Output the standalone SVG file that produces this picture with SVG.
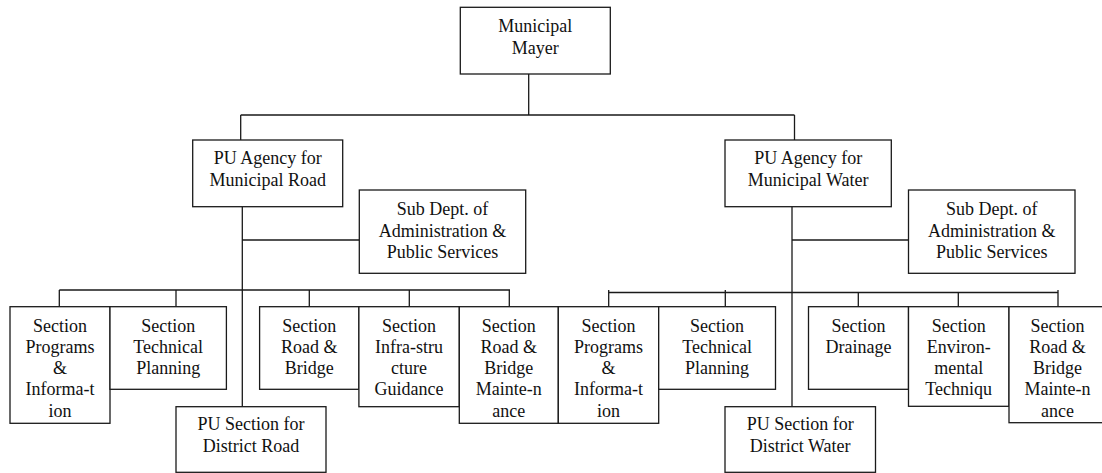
<svg xmlns="http://www.w3.org/2000/svg" width="1102" height="473" viewBox="0 0 1102 473">
  <style>
    .box { fill: #ffffff; stroke: #1a1a1a; stroke-width: 1.3; }
    .lbl { font-family: "Liberation Serif", "Times New Roman", serif; font-size: 18px; fill: #111111; text-anchor: middle; }
    .wire { fill: none; stroke: #1a1a1a; stroke-width: 1.3; }
  </style>
  <rect width="1102" height="473" fill="#ffffff"/>

  <!-- connectors -->
  <g id="connectors" class="wire">
    <!-- mayor to agencies -->
    <path d="M528.7 74 V115 M240.7 115 H794.5 M240.7 115 V140 M794.5 115 V140"/>
    <!-- road agency trunk -->
    <path d="M242.3 206.7 V406.7 M242.3 240 H359.3"/>
    <path d="M59.3 290 H510 M59.3 290 V306.7 M176 290 V306.7 M309.3 290 V306.7 M409.3 290 V306.7 M509.3 290 V306.7"/>
    <!-- water agency trunk -->
    <path d="M792 206.7 V406.7 M792 240 H908.5"/>
    <path d="M608.7 292.5 H1058.5 M608.7 290 V306.7 M725.3 290 V306.7 M858.3 292.5 V306.7 M958.3 292.5 V306.7 M1058 290 V306.7"/>
  </g>

  <!-- top level -->
  <g id="mayor">
    <rect class="box" x="460.3" y="7.3" width="150" height="66.7"/>
    <text class="lbl" x="535.3" y="32.3">Municipal</text>
    <text class="lbl" x="535.3" y="54">Mayer</text>
  </g>

  <!-- road branch -->
  <g id="agency-road">
    <rect class="box" x="192.7" y="140" width="150" height="66.7"/>
    <text class="lbl" x="267.7" y="164">PU Agency for</text>
    <text class="lbl" x="267.7" y="185.5">Municipal Road</text>
  </g>
  <g id="subdept-road">
    <rect class="box" x="359.3" y="190" width="166.4" height="83.3"/>
    <text class="lbl" x="442.5" y="215">Sub Dept. of</text>
    <text class="lbl" x="442.5" y="236.5">Administration &amp;</text>
    <text class="lbl" x="442.5" y="258">Public Services</text>
  </g>
  <g id="road-programs">
    <rect class="box" x="10" y="306.7" width="100" height="116.6"/>
    <text class="lbl" x="60" y="331.5">Section</text>
    <text class="lbl" x="60" y="352.8">Programs</text>
    <text class="lbl" x="60" y="374.1">&amp;</text>
    <text class="lbl" x="60" y="395.4">Informa-t</text>
    <text class="lbl" x="60" y="416.7">ion</text>
  </g>
  <g id="road-technical">
    <rect class="box" x="110" y="306.7" width="116.4" height="82.6"/>
    <text class="lbl" x="168.2" y="331.5">Section</text>
    <text class="lbl" x="168.2" y="352.8">Technical</text>
    <text class="lbl" x="168.2" y="374.1">Planning</text>
  </g>
  <g id="road-bridge">
    <rect class="box" x="259.6" y="306.7" width="99.3" height="82.6"/>
    <text class="lbl" x="309.3" y="331.5">Section</text>
    <text class="lbl" x="309.3" y="352.8">Road &amp;</text>
    <text class="lbl" x="309.3" y="374.1">Bridge</text>
  </g>
  <g id="road-infrastructure">
    <rect class="box" x="358.9" y="306.7" width="100.4" height="100"/>
    <text class="lbl" x="409.1" y="331.5">Section</text>
    <text class="lbl" x="409.1" y="352.8">Infra-stru</text>
    <text class="lbl" x="409.1" y="374.1">cture</text>
    <text class="lbl" x="409.1" y="395.4">Guidance</text>
  </g>
  <g id="road-maintenance">
    <rect class="box" x="459.3" y="306.7" width="99" height="116.6"/>
    <text class="lbl" x="508.8" y="331.5">Section</text>
    <text class="lbl" x="508.8" y="352.8">Road &amp;</text>
    <text class="lbl" x="508.8" y="374.1">Bridge</text>
    <text class="lbl" x="508.8" y="395.4">Mainte-n</text>
    <text class="lbl" x="508.8" y="416.7">ance</text>
  </g>
  <g id="district-road">
    <rect class="box" x="176" y="406.7" width="150" height="65.6"/>
    <text class="lbl" x="251" y="430">PU Section for</text>
    <text class="lbl" x="251" y="451.7">District Road</text>
  </g>

  <!-- water branch -->
  <g id="agency-water">
    <rect class="box" x="725" y="140" width="166.3" height="66.7"/>
    <text class="lbl" x="808.2" y="164">PU Agency for</text>
    <text class="lbl" x="808.2" y="185.5">Municipal Water</text>
  </g>
  <g id="subdept-water">
    <rect class="box" x="908.5" y="190" width="166.5" height="83.3"/>
    <text class="lbl" x="991.8" y="215">Sub Dept. of</text>
    <text class="lbl" x="991.8" y="236.5">Administration &amp;</text>
    <text class="lbl" x="991.8" y="258">Public Services</text>
  </g>
  <g id="water-programs">
    <rect class="box" x="558.3" y="306.7" width="100.4" height="116.6"/>
    <text class="lbl" x="608.5" y="331.5">Section</text>
    <text class="lbl" x="608.5" y="352.8">Programs</text>
    <text class="lbl" x="608.5" y="374.1">&amp;</text>
    <text class="lbl" x="608.5" y="395.4">Informa-t</text>
    <text class="lbl" x="608.5" y="416.7">ion</text>
  </g>
  <g id="water-technical">
    <rect class="box" x="658.7" y="306.7" width="116.8" height="82.6"/>
    <text class="lbl" x="717.1" y="331.5">Section</text>
    <text class="lbl" x="717.1" y="352.8">Technical</text>
    <text class="lbl" x="717.1" y="374.1">Planning</text>
  </g>
  <g id="water-drainage">
    <rect class="box" x="808.5" y="306.7" width="100" height="82.6"/>
    <text class="lbl" x="858.5" y="331.5">Section</text>
    <text class="lbl" x="858.5" y="352.8">Drainage</text>
  </g>
  <g id="water-environmental">
    <rect class="box" x="908.5" y="306.7" width="100.5" height="99.6"/>
    <text class="lbl" x="958.7" y="331.5">Section</text>
    <text class="lbl" x="958.7" y="352.8">Environ-</text>
    <text class="lbl" x="958.7" y="374.1">mental</text>
    <text class="lbl" x="958.7" y="395.4">Techniqu</text>
  </g>
  <g id="water-maintenance">
    <rect class="box" x="1009" y="306.7" width="99" height="116"/>
    <text class="lbl" x="1057.5" y="331.5">Section</text>
    <text class="lbl" x="1057.5" y="352.8">Road &amp;</text>
    <text class="lbl" x="1057.5" y="374.1">Bridge</text>
    <text class="lbl" x="1057.5" y="395.4">Mainte-n</text>
    <text class="lbl" x="1057.5" y="416.7">ance</text>
  </g>
  <g id="district-water">
    <rect class="box" x="725" y="406.7" width="150.5" height="65.6"/>
    <text class="lbl" x="800.2" y="430">PU Section for</text>
    <text class="lbl" x="800.2" y="451.7">District Water</text>
  </g>
</svg>
